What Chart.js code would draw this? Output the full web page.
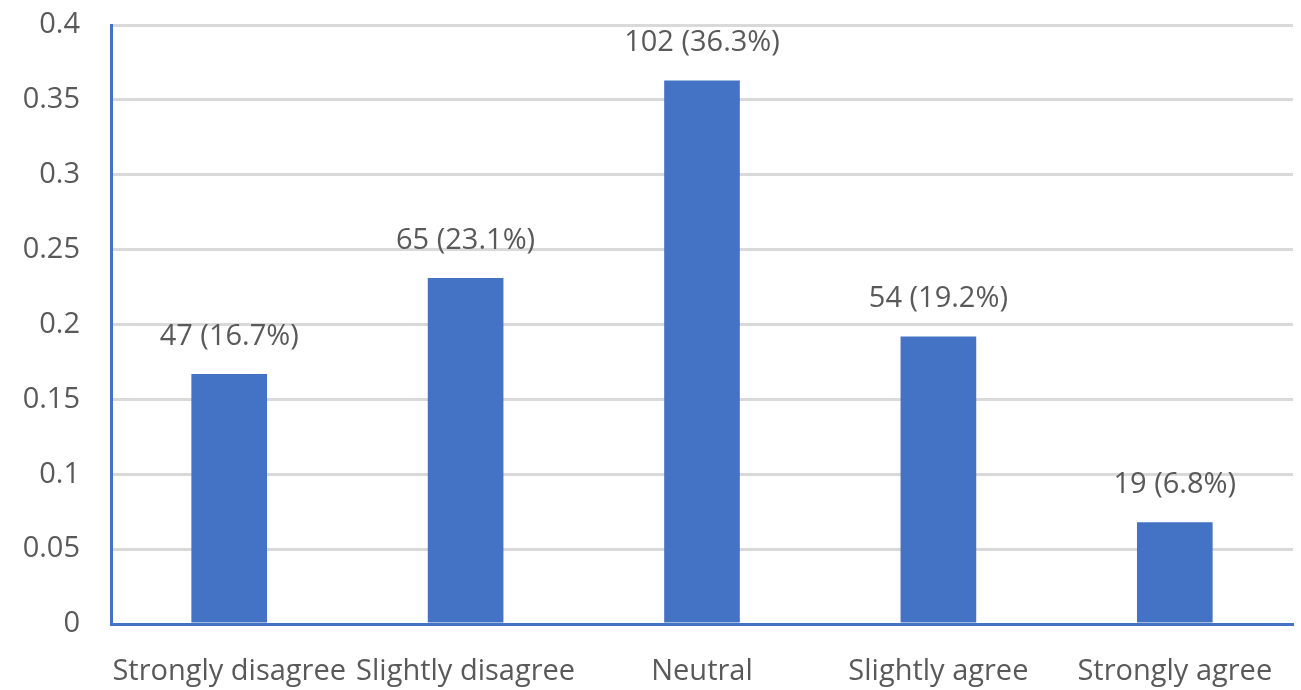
<!DOCTYPE html>
<html>
<head>
<meta charset="utf-8">
<script src="https://cdn.jsdelivr.net/npm/chart.js@4/dist/chart.umd.min.js"></script>
<style>
  html, body { margin: 0; padding: 0; background: #ffffff; }
  #wrap { width: 1301px; height: 690px; }
</style>
</head>
<body>
<div id="wrap"><canvas id="c" width="1301" height="690"></canvas></div>
<script>
// Survey responses on a five-point agreement scale
const categories = ['Strongly disagree', 'Slightly disagree', 'Neutral', 'Slightly agree', 'Strongly agree'];
const counts = [47, 65, 102, 54, 19];
const shares = [0.167, 0.231, 0.363, 0.192, 0.068];
const yTicks = [0, 0.05, 0.1, 0.15, 0.2, 0.25, 0.3, 0.35, 0.4];

const FONT = '"Open Sans", "Liberation Sans", sans-serif';
const TEXT = '#595959';
const BLUE = '#4472C4';
const SIZE = 29;

// Count and percentage written above each bar
const barLabels = {
  id: 'barLabels',
  afterDatasetsDraw(chart) {
    const ctx = chart.ctx;
    const meta = chart.getDatasetMeta(0);
    ctx.save();
    ctx.font = SIZE + 'px ' + FONT;
    ctx.fillStyle = TEXT;
    ctx.textAlign = 'center';
    ctx.textBaseline = 'alphabetic';
    meta.data.forEach((bar, i) => {
      const txt = counts[i] + ' (' + (shares[i] * 100).toFixed(1) + '%)';
      ctx.fillText(txt, bar.x, bar.y - 29);
    });
    ctx.restore();
  }
};

new Chart(document.getElementById('c'), {
  type: 'bar',
  data: {
    labels: categories,
    datasets: [{
      data: shares,
      backgroundColor: BLUE,
      borderWidth: 0,
      barPercentage: 0.64,
      categoryPercentage: 0.5
    }]
  },
  options: {
    responsive: false,
    animation: false,
    layout: { padding: { top: 25, right: 8, left: 0, bottom: 0 } },
    plugins: { legend: { display: false }, tooltip: { enabled: false } },
    scales: {
      x: {
        grid: { display: false, drawTicks: false, tickLength: 0 },
        border: { display: true, color: BLUE, width: 3 },
        ticks: { color: TEXT, font: { family: FONT, size: SIZE }, padding: 30, maxRotation: 0, autoSkip: false },
        afterFit(scale) { scale.height = 66; scale.paddingLeft = 0; scale.paddingRight = 0; }
      },
      y: {
        min: 0,
        max: 0.4,
        afterBuildTicks(scale) { scale.ticks = yTicks.map(v => ({ value: v })); },
        grid: { color: '#d9d9d9', lineWidth: 3, drawTicks: false, tickLength: 0 },
        border: { display: true, color: BLUE, width: 3 },
        ticks: {
          color: TEXT,
          font: { family: FONT, size: SIZE },
          padding: 31,
          callback: v => String(v)
        },
        afterFit(scale) { scale.width = 111; scale.paddingTop = 0; scale.paddingBottom = 0; }
      }
    }
  },
  plugins: [barLabels]
});
</script>
</body>
</html>
